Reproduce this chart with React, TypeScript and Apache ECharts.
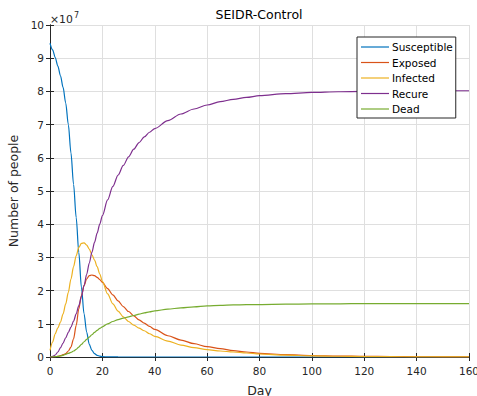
import React, { useEffect, useRef } from "react";
import * as echarts from "echarts";

// Days sampled (x values)
const days = [
  0, 1, 2, 3, 4, 5, 6, 7, 8, 9, 10, 11, 12, 13, 14, 15, 16, 17, 18, 19, 20,
  22, 24, 26, 28, 30, 32, 34, 36, 38, 40,
  45, 50, 55, 60, 65, 70, 75, 80,
  90, 100, 110, 120, 130, 140, 150, 160,
];

// Values in units of 1e7 people
const susceptible = [
  9.45, 9.25, 9.02, 8.76, 8.47, 8.12, 7.65, 7.0, 6.15, 5.2, 4.2, 3.15, 2.1, 1.3, 0.75, 0.38, 0.2, 0.1, 0.05, 0.025, 0.012,
  0.004, 0.002, 0.001, 0.0005, 0, 0, 0, 0, 0, 0,
  0, 0, 0, 0, 0, 0, 0, 0,
  0, 0, 0, 0, 0, 0, 0, 0,
];
const exposed = [
  0, 0.005, 0.01, 0.02, 0.04, 0.07, 0.1, 0.18, 0.3, 0.55, 0.95, 1.45, 1.85, 2.15, 2.35, 2.45, 2.47, 2.45, 2.4, 2.33, 2.25,
  2.06, 1.87, 1.69, 1.52, 1.37, 1.24, 1.12, 1.02, 0.92, 0.83,
  0.64, 0.51, 0.4, 0.31, 0.25, 0.19, 0.15, 0.11,
  0.07, 0.045, 0.03, 0.02, 0.013, 0.008, 0.006, 0.004,
];
const infected = [
  0.2, 0.45, 0.7, 0.88, 1.05, 1.3, 1.6, 1.95, 2.35, 2.72, 3.05, 3.3, 3.42, 3.44, 3.37, 3.25, 3.08, 2.92, 2.72, 2.5, 2.28,
  1.9, 1.6, 1.38, 1.21, 1.07, 0.96, 0.87, 0.79, 0.7, 0.62,
  0.48, 0.36, 0.28, 0.22, 0.18, 0.15, 0.12, 0.09,
  0.055, 0.035, 0.022, 0.014, 0.009, 0.006, 0.004, 0.003,
];
const recure = [
  0, 0.02, 0.06, 0.15, 0.28, 0.42, 0.58, 0.74, 0.9, 1.08, 1.3, 1.55, 1.82, 2.15, 2.49, 2.83, 3.15, 3.45, 3.73, 4.0, 4.26,
  4.73, 5.14, 5.48, 5.77, 6.03, 6.26, 6.46, 6.63, 6.77, 6.88,
  7.12, 7.32, 7.47, 7.59, 7.69, 7.76, 7.82, 7.87,
  7.93, 7.97, 7.99, 8.0, 8.01, 8.01, 8.02, 8.02,
];
const dead = [
  0, 0.005, 0.01, 0.02, 0.03, 0.05, 0.08, 0.11, 0.14, 0.18, 0.23, 0.3, 0.38, 0.46, 0.53, 0.6, 0.67, 0.74, 0.8, 0.86, 0.91,
  1.0, 1.07, 1.125, 1.17, 1.21, 1.25, 1.29, 1.33, 1.36, 1.39,
  1.44, 1.48, 1.51, 1.54, 1.555, 1.57, 1.575, 1.58,
  1.59, 1.6, 1.6, 1.61, 1.61, 1.61, 1.61, 1.61,
];

const seriesNames = ["Susceptible", "Exposed", "Infected", "Recure", "Dead"];
const seriesValues = [susceptible, exposed, infected, recure, dead];
const seriesColors = ["#0072BD", "#D95319", "#EDB120", "#7E2F8E", "#77AC30"];

const xTicks = { min: 0, max: 160, interval: 20 };
const yTicks = { min: 0, max: 10, interval: 1 };

const FONT = "'DejaVu Sans', 'Liberation Sans', Arial, sans-serif";
const AX = "#262626";
const GRID = "#dfdfdf";

export default function App() {
  const ref = useRef<HTMLDivElement>(null);
  useEffect(() => {
    if (!ref.current) return;
    const chart = echarts.init(ref.current, undefined, { renderer: "svg" });
    const axisCommon = {
      axisLine: { show: true, lineStyle: { color: AX, width: 1 } },
      axisTick: { show: true, inside: true, length: 4, lineStyle: { color: AX } },
    };
    chart.setOption({
      animation: false,
      backgroundColor: "#ffffff",
      textStyle: { fontFamily: FONT },
      grid: { left: 50, right: 8, top: 25, bottom: 39, containLabel: false, outerBoundsMode: "none" },
      title: {
        text: "SEIDR-Control",
        left: 259,
        top: 8,
        padding: 0,
        textAlign: "center",
        textStyle: { fontFamily: FONT, fontSize: 12.5, fontWeight: "normal", color: "#000" },
      },
      graphic: [
        { type: "text", left: 50, top: 14, style: { text: "×10", fontFamily: FONT, fontSize: 10.8, fill: AX } },
        { type: "text", left: 74, top: 11, style: { text: "7", fontFamily: FONT, fontSize: 8, fill: AX } },
      ],
      legend: {
        orient: "vertical",
        left: 357,
        top: 37,
        padding: [3, 3, 2, 4],
        itemWidth: 28,
        itemHeight: 1.2,
        itemGap: 1.5,
        backgroundColor: "#ffffff",
        borderColor: AX,
        borderWidth: 1,
        borderRadius: 0,
        textStyle: { fontFamily: FONT, fontSize: 10.5, color: "#000", lineHeight: 14, padding: [0, 0, 0, -2] },
        data: seriesNames.map((name) => ({ name, icon: "rect" })),
      },
      xAxis: [
        {
          type: "value",
          position: "bottom",
          ...xTicks,
          name: "Day",
          nameLocation: "middle",
          nameGap: 27,
          nameTextStyle: { fontFamily: FONT, fontSize: 12.5, color: AX },
          ...axisCommon,
          axisLabel: { color: AX, fontSize: 10.5, fontFamily: FONT, margin: 8 },
          splitLine: { show: true, lineStyle: { color: GRID, width: 1 } },
        },
        {
          type: "value",
          position: "top",
          ...xTicks,
          ...axisCommon,
          axisLabel: { show: false },
          splitLine: { show: false },
        },
      ],
      yAxis: [
        {
          type: "value",
          position: "left",
          ...yTicks,
          name: "Number of people",
          nameLocation: "middle",
          nameGap: 20,
          nameTextStyle: { fontFamily: FONT, fontSize: 12.5, color: AX },
          ...axisCommon,
          axisLabel: { color: AX, fontSize: 10.5, fontFamily: FONT, margin: 6 },
          splitLine: { show: true, lineStyle: { color: GRID, width: 1 } },
        },
        {
          type: "value",
          position: "right",
          ...yTicks,
          ...axisCommon,
          axisLabel: { show: false },
          splitLine: { show: false },
        },
      ],
      series: seriesNames.map((name, i) => ({
        name,
        type: "line",
        xAxisIndex: 0,
        yAxisIndex: 0,
        data: days.map((d, j) => [d, seriesValues[i][j]]),
        symbol: "none",
        showSymbol: false,
        smooth: 0.3,
        smoothMonotone: "x",
        color: seriesColors[i],
        lineStyle: { color: seriesColors[i], width: 1.2 },
        emphasis: { disabled: true },
      })),
    });
    return () => chart.dispose();
  }, []);
  return <div ref={ref} style={{ position: "fixed", left: 0, top: 0, width: 477, height: 396 }} />;
}
